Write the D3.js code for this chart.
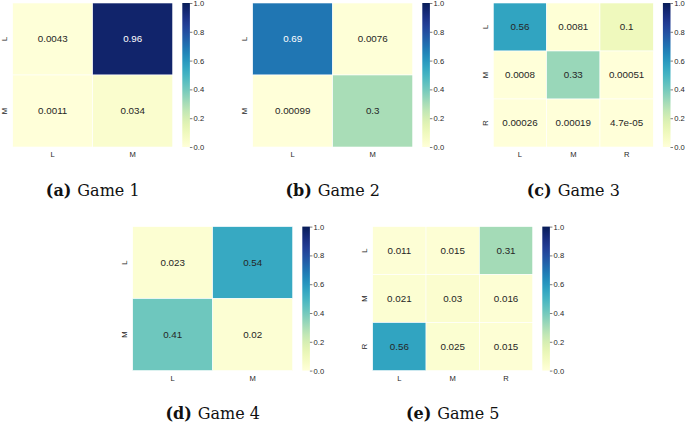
<!DOCTYPE html>
<html>
<head>
<meta charset="utf-8">
<script src="https://cdn.jsdelivr.net/npm/d3@7"></script>
<style>
  body { margin: 0; background: #fff; }
  svg { display: block; }
</style>
</head>
<body>
<div id="chart"></div>
<script>
// matrices, one per game
const game1 = [[0.0043, 0.96], [0.0011, 0.034]]
const game2 = [[0.69, 0.0076], [0.00099, 0.3]]
const game3 = [[0.56, 0.0081, 0.1], [0.0008, 0.33, 0.00051], [0.00026, 0.00019, 4.7e-05]]
const game4 = [[0.023, 0.54], [0.41, 0.02]]
const game5 = [[0.011, 0.015, 0.31], [0.021, 0.03, 0.016], [0.56, 0.025, 0.015]]

const labels2 = ["L", "M"]
const labels3 = ["L", "M", "R"]
const cbTicks = [0, 0.2, 0.4, 0.6, 0.8, 1.0]
const letters = ["a", "b", "c", "d", "e"]
const titles = ["Game 1", "Game 2", "Game 3", "Game 4", "Game 5"]

// where each panel's heatmap sits
const layout = [
  { x: 12.7, y: 3 },
  { x: 252.7, y: 3 },
  { x: 493.3, y: 3 },
  { x: 132.7, y: 226.6 },
  { x: 372.7, y: 226.6 }
]
const games = [game1, game2, game3, game4, game5]

const W = 685, H = 422
const hmW = 160, hmH = 144
const cbGap = 9.6, cbW = 7.6

const color = d3.scaleSequential(d3.interpolateYlGnBu).domain([0, 1])

const svg = d3.select("#chart").append("svg")
  .attr("width", W).attr("height", H)

const defs = svg.append("defs")
const grad = defs.append("linearGradient")
  .attr("id", "cbgrad")
  .attr("x1", 0).attr("y1", 1).attr("x2", 0).attr("y2", 0)
d3.range(0, 1.0001, 0.05).forEach(t => {
  grad.append("stop").attr("offset", t).attr("stop-color", color(t))
})

// python-ish short formatting like seaborn's annot
function fmt(v) {
  if (v !== 0 && Math.abs(v) < 1e-4) {
    let s = v.toExponential(1)
    return s.replace(/e([+-])(\d)$/, "e$10$2")
  }
  return String(+v.toPrecision(2))
}

games.forEach((m, gi) => {
  const pos = layout[gi]
  const labs = m.length === 3 ? labels3 : labels2
  const g = svg.append("g").attr("transform", `translate(${pos.x},${pos.y})`)

  const xs = d3.scaleBand().domain(labs).range([0, hmW])
  const ys = d3.scaleBand().domain(labs).range([0, hmH])

  const cells = []
  m.forEach((row, i) => row.forEach((v, j) => cells.push({ r: labs[i], c: labs[j], v })))

  g.selectAll("rect.cell").data(cells).join("rect")
    .attr("class", "cell")
    .attr("x", d => xs(d.c))
    .attr("y", d => ys(d.r))
    .attr("width", xs.bandwidth())
    .attr("height", ys.bandwidth())
    .attr("fill", d => color(d.v))
    .attr("stroke", "#fff")
    .attr("stroke-width", 0.6)

  g.selectAll("text.val").data(cells).join("text")
    .attr("class", "val")
    .attr("x", d => xs(d.c) + xs.bandwidth() / 2)
    .attr("y", d => ys(d.r) + ys.bandwidth() / 2)
    .attr("dy", "0.35em")
    .attr("text-anchor", "middle")
    .attr("font-family", "Liberation Sans, Arial, sans-serif")
    .attr("font-size", 9.8)
    .attr("fill", d => {
      const c = d3.lab(color(d.v))
      return c.l < 55 ? "#fff" : "#262626"
    })
    .text(d => fmt(d.v))

  // column labels
  g.selectAll("text.xl").data(labs).join("text")
    .attr("class", "xl")
    .attr("x", d => xs(d) + xs.bandwidth() / 2)
    .attr("y", hmH + 10)
    .attr("text-anchor", "middle")
    .attr("font-family", "Liberation Sans, Arial, sans-serif")
    .attr("font-size", 7.6)
    .attr("fill", "#262626")
    .text(d => d)

  // row labels, rotated
  g.selectAll("text.yl").data(labs).join("text")
    .attr("class", "yl")
    .attr("transform", d => `translate(-5.5,${ys(d) + ys.bandwidth() / 2}) rotate(-90)`)
    .attr("text-anchor", "middle")
    .attr("font-family", "Liberation Sans, Arial, sans-serif")
    .attr("font-size", 7.6)
    .attr("fill", "#262626")
    .text(d => d)

  // colorbar
  const cbx = hmW + cbGap
  const cbScale = d3.scaleLinear().domain([0, 1]).range([hmH, 0])
  g.append("rect")
    .attr("x", cbx).attr("y", 0)
    .attr("width", cbW).attr("height", hmH)
    .attr("fill", "url(#cbgrad)")

  const ax = g.append("g")
    .attr("transform", `translate(${cbx + cbW},0)`)
    .call(d3.axisRight(cbScale).tickValues(cbTicks).tickFormat(d3.format(".1f")).tickSize(2.5).tickPadding(1.2))
  ax.select(".domain").remove()
  ax.selectAll("line").attr("stroke", "#262626").attr("stroke-width", 0.6)
  ax.selectAll("text")
    .attr("font-family", "Liberation Sans, Arial, sans-serif")
    .attr("font-size", 7.6)
    .attr("fill", "#262626")

  // caption
  const cap = g.append("text")
    .attr("x", hmW / 2)
    .attr("y", hmH + 48.5)
    .attr("text-anchor", "middle")
    .attr("font-family", "DejaVu Serif, serif")
    .attr("font-size", 16)
    .attr("fill", "#111")
  cap.append("tspan").attr("font-weight", "bold").text(`(${letters[gi]})`)
  cap.append("tspan").attr("dx", 6).text(titles[gi])
})
</script>
</body>
</html>
